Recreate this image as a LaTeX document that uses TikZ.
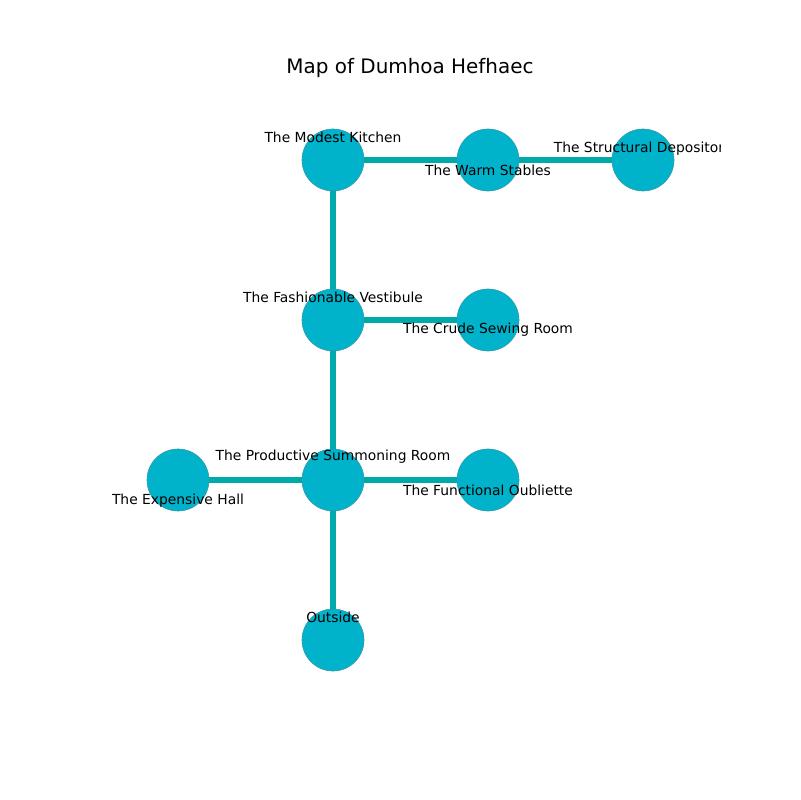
\documentclass[tikz,border=0pt]{standalone}
\usepackage{fontspec}
\setmainfont{DejaVu Sans}
\usetikzlibrary{backgrounds}
\definecolor{edgecol}{HTML}{00A9AA}
\definecolor{nodecol}{HTML}{00B3CB}
\definecolor{nodeline}{HTML}{3A95A8}
\begin{document}
\begin{tikzpicture}[x=0.01in,y=-0.01in,
  room/.style={circle,fill=nodecol,draw=nodeline,line width=0.4pt,minimum size=0.62in,inner sep=0pt},
  link/.style={draw=edgecol,line width=3.8pt},
  lbl/.style={font=\fontsize{10pt}{12pt}\selectfont,inner sep=0pt,anchor=center}]
\useasboundingbox (0,0) rectangle (800,800);
\node[font=\fontsize{14.4pt}{17pt}\selectfont] (title) at (410,68) {Map of Dumhoa Hefhaec};
\node[room] (kit) at (333,160) {};
\node[room] (sta) at (488,160) {};
\node[room] (dep) at (643,160) {};
\node[room] (ves) at (333,320) {};
\node[room] (sew) at (488,320) {};
\node[room] (sum) at (333,480) {};
\node[room] (oub) at (488,480) {};
\node[room] (hal) at (178,480) {};
\node[room] (out) at (333,640) {};
\begin{scope}[on background layer]
\draw[link] (kit) -- (sta);
\draw[link] (sta) -- (dep);
\draw[link] (kit) -- (ves);
\draw[link] (ves) -- (sew);
\draw[link] (ves) -- (sum);
\draw[link] (sum) -- (hal);
\draw[link] (sum) -- (oub);
\draw[link] (sum) -- (out);
\end{scope}
\begin{scope}
\clip (100,96) rectangle (720,712);
\node[lbl] (lkit) at (333,137) {The Modest Kitchen};
\node[lbl] (lsta) at (488,170) {The Warm Stables};
\node[lbl] (ldep) at (643,149) {The Structural Depository};
\node[lbl] (lves) at (333,297) {The Fashionable Vestibule};
\node[lbl] (lsew) at (488,330) {The Crude Sewing Room};
\node[lbl] (lsum) at (333,457) {The Productive Summoning Room};
\node[lbl] (loub) at (488,490) {The Functional Oubliette};
\node[lbl] (lhal) at (178,501) {The Expensive Hall};
\node[lbl] (lout) at (333,617) {Outside};
\end{scope}
\end{tikzpicture}
\end{document}
